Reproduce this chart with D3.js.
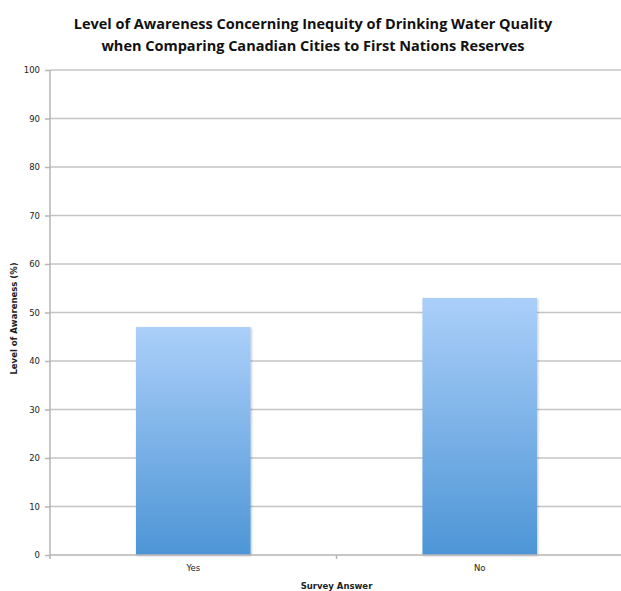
<!DOCTYPE html>
<html>
<head>
<meta charset="utf-8">
<script src="https://cdn.jsdelivr.net/npm/d3@7"></script>
<style>
  html, body { margin: 0; padding: 0; background: #fff; }
  svg { display: block; }
</style>
</head>
<body>
<svg id="chart" width="621" height="591"></svg>
<script>
// Survey results
const categories = ["Yes", "No"];
const awareness = [47, 53];
const yTicks = [0, 10, 20, 30, 40, 50, 60, 70, 80, 90, 100];
const titleLines = [
  "Level of Awareness Concerning Inequity of Drinking Water Quality",
  "when Comparing Canadian Cities to First Nations Reserves"
];
const xAxisTitle = "Survey Answer";
const yAxisTitle = "Level of Awareness (%)";

const svg = d3.select("#chart");
const margin = { left: 50, right: -2, top: 70, bottom: 36 };
const W = 621, H = 591;

const x = d3.scaleBand()
  .domain(categories)
  .range([margin.left, W - margin.right])
  .paddingInner(0.6)
  .paddingOuter(0.3);

const y = d3.scaleLinear()
  .domain([0, 100])
  .range([H - margin.bottom, margin.top]);

// Bar gradient: light blue at top, deeper blue at bottom
const defs = svg.append("defs");
const grad = defs.append("linearGradient")
  .attr("id", "barGrad")
  .attr("x1", 0).attr("y1", 0).attr("x2", 0).attr("y2", 1);
grad.append("stop").attr("offset", "0%").attr("stop-color", "#abcff9");
grad.append("stop").attr("offset", "100%").attr("stop-color", "#4d95d6");

const shadow = defs.append("filter").attr("id", "soft")
  .attr("x", "-5%").attr("y", "-5%").attr("width", "110%").attr("height", "110%");
shadow.append("feGaussianBlur").attr("in", "SourceAlpha").attr("stdDeviation", 1).attr("result", "b");
shadow.append("feOffset").attr("in", "b").attr("dx", 0.5).attr("dy", 0.5).attr("result", "o");
shadow.append("feComponentTransfer").attr("in", "o").attr("result", "s")
  .append("feFuncA").attr("type", "linear").attr("slope", 0.25);
const merge = shadow.append("feMerge");
merge.append("feMergeNode").attr("in", "s");
merge.append("feMergeNode").attr("in", "SourceGraphic");

// Horizontal gridlines
svg.append("g")
  .selectAll("line")
  .data(yTicks.filter(d => d > 0))
  .join("line")
  .attr("x1", margin.left)
  .attr("x2", W)
  .attr("y1", d => y(d))
  .attr("y2", d => y(d))
  .attr("stroke", "#c4c4c4")
  .attr("stroke-width", 1.5);

// Bars
svg.append("g")
  .selectAll("rect")
  .data(categories.map((c, i) => ({ c, v: awareness[i] })))
  .join("rect")
  .attr("x", d => x(d.c))
  .attr("y", d => y(d.v))
  .attr("width", x.bandwidth())
  .attr("height", d => y(0) - y(d.v))
  .attr("fill", "url(#barGrad)")
  .attr("filter", "url(#soft)");

// Y axis
const yAxis = svg.append("g")
  .attr("transform", `translate(${margin.left},0)`)
  .call(d3.axisLeft(y).tickValues(yTicks).tickSize(5).tickPadding(5).tickFormat(d3.format("d")));
yAxis.select(".domain").attr("stroke", "#b5b5b5").attr("stroke-width", 1.5).attr("d", `M0,${y(0) + 4}V${y(100)}`);
yAxis.selectAll(".tick line").attr("stroke", "#b5b5b5").attr("stroke-width", 1.5);
yAxis.selectAll(".tick text")
  .attr("fill", "#222")
  .style("font-family", "'DejaVu Sans', Verdana, sans-serif")
  .style("font-size", "8.5px");

// X axis
const xAxis = svg.append("g")
  .attr("transform", `translate(0,${y(0)})`)
  .call(d3.axisBottom(x).tickSize(0).tickPadding(10));
xAxis.select(".domain").attr("stroke", "#b5b5b5").attr("stroke-width", 1.5)
  .attr("d", `M${margin.left},0H${W}`);
xAxis.selectAll(".tick text")
  .attr("fill", "#222")
  .style("font-family", "'DejaVu Sans', Verdana, sans-serif")
  .style("font-size", "8.5px");
// Separator tick between the categories
const midX = (x("Yes") + x.bandwidth() + x("No")) / 2;
svg.append("line")
  .attr("x1", midX).attr("x2", midX)
  .attr("y1", y(0)).attr("y2", y(0) + 4)
  .attr("stroke", "#b5b5b5").attr("stroke-width", 1.5);

// Title
svg.append("text")
  .attr("x", 313)
  .attr("text-anchor", "middle")
  .style("font-family", "'Open Sans', sans-serif")
  .style("font-weight", "bold")
  .style("font-size", "14.5px")
  .attr("fill", "#111")
  .selectAll("tspan")
  .data(titleLines)
  .join("tspan")
  .attr("x", 313)
  .attr("y", (d, i) => 29 + i * 22)
  .text(d => d);

// Axis titles
svg.append("text")
  .attr("x", midX)
  .attr("y", 589)
  .attr("text-anchor", "middle")
  .style("font-family", "'DejaVu Sans', Verdana, sans-serif")
  .style("font-weight", "bold")
  .style("font-size", "8.5px")
  .attr("fill", "#222")
  .text(xAxisTitle);

svg.append("text")
  .attr("transform", `translate(17,${(y(0) + y(100)) / 2 + 6}) rotate(-90)`)
  .attr("text-anchor", "middle")
  .style("font-family", "'DejaVu Sans', Verdana, sans-serif")
  .style("font-weight", "bold")
  .style("font-size", "8.5px")
  .attr("fill", "#222")
  .text(yAxisTitle);
</script>
</body>
</html>
